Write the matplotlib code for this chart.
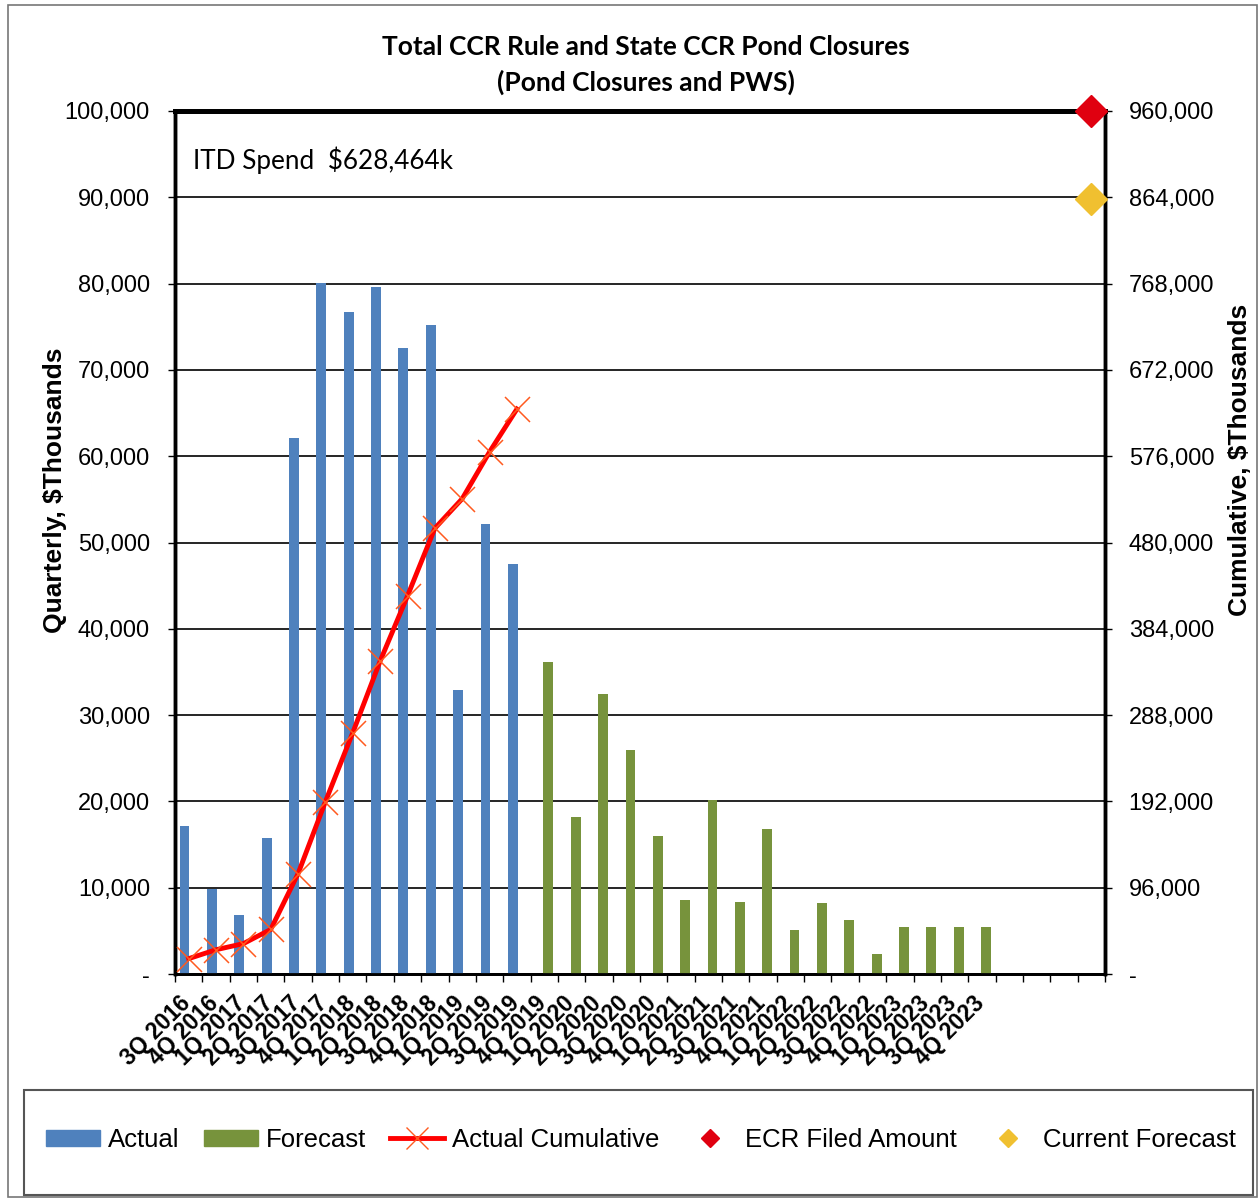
import numpy as np
import matplotlib.pyplot as plt
import matplotlib.patches as mpatches
import matplotlib.transforms as mtransforms
from matplotlib.lines import Line2D
from matplotlib.ticker import FuncFormatter

# quarter labels on the category axis
quarters = ['3Q 2016', '4Q 2016', '1Q 2017', '2Q 2017', '3Q 2017', '4Q 2017',
            '1Q 2018', '2Q 2018', '3Q 2018', '4Q 2018', '1Q 2019', '2Q 2019',
            '3Q 2019', '4Q 2019', '1Q 2020', '2Q 2020', '3Q 2020', '4Q 2020',
            '1Q 2021', '2Q 2021', '3Q 2021', '4Q 2021', '1Q 2022', '2Q 2022',
            '3Q 2022', '4Q 2022', '1Q 2023', '2Q 2023', '3Q 2023', '4Q 2023']

# quarterly spend, $ thousands (3Q 2016 - 3Q 2019)
actual = [17100, 9900, 6800, 15800, 62100, 80100, 76700, 79600, 72500,
          75200, 32900, 52100, 47500]
# quarterly forecast, $ thousands (4Q 2019 - 4Q 2023)
forecast = [36100, 18200, 32400, 26000, 16000, 8600, 20200, 8400, 16800,
            5100, 8200, 6300, 2300, 5400, 5400, 5400, 5400]
# cumulative actual spend, $ thousands
actual_cum = [17100, 27000, 33800, 49600, 111700, 191800, 268500, 348100,
              420600, 495800, 528700, 580800, 628464]
ecr_filed = 960000
current_fc = 862000

blue = '#4F81BD'
green = '#77933C'

fig = plt.figure(figsize=(12.59, 11.99), dpi=100)
ax = fig.add_axes([175 / 1259, 1 - 974 / 1199, 930 / 1259, 863 / 1199])
ax2 = ax.twinx()

n = len(quarters)
x_act = np.arange(len(actual))
x_fc = np.arange(len(actual), len(actual) + len(forecast))
bw = 0.36
ax.bar(x_act - 0.15, actual, width=bw, color=blue, zorder=3)
ax.bar(x_fc + 0.15, forecast, width=bw, color=green, zorder=3)

ax.set_xlim(-0.5, n + 3.5)
ax.set_ylim(0, 100000)
ax.set_yticks(np.arange(0, 100001, 10000))
fmt = FuncFormatter(lambda v, p: '-' if v == 0 else f'{int(v):,}')
ax.yaxis.set_major_formatter(fmt)
ax.yaxis.grid(True, color='black', lw=1.2, zorder=1)
ax.set_axisbelow(True)

ax.set_xticks(np.arange(n))
ax.set_xticklabels(quarters, rotation=45, ha='right', va='top',
                   fontsize=16.5, fontweight='bold', family='Liberation Sans')
ax.tick_params(axis='x', which='major', length=0, pad=13)
shift = mtransforms.ScaledTranslation(5 / 72, 0, fig.dpi_scale_trans)
for lab in ax.get_xticklabels():
    lab.set_transform(lab.get_transform() + shift)
ax.set_xticks(np.arange(-0.5, n + 3.6, 1), minor=True)
ax.tick_params(axis='x', which='minor', length=6, width=1, direction='out')
ax.tick_params(axis='y', length=5, width=1, pad=13, labelsize=17)
for lab in ax.get_yticklabels():
    lab.set_family('Liberation Sans')

ax2.set_ylim(0, 960000)
ax2.set_yticks(np.arange(0, 960001, 96000))
ax2.yaxis.set_major_formatter(fmt)
ax2.tick_params(axis='y', length=5, width=1, pad=12, labelsize=17)
for lab in ax2.get_yticklabels():
    lab.set_family('Liberation Sans')

ax2.plot(x_act, actual_cum, color='red', lw=3.5, zorder=4)
ax2.plot(x_act, actual_cum, ls='none', marker='x', ms=18, mew=1.1,
         color='#FF5A1F', zorder=5)
ax2.plot([n + 3], [ecr_filed], marker='D', ms=16, color='#E00010',
         ls='none', clip_on=False, zorder=6)
ax2.plot([n + 3], [current_fc], marker='D', ms=16, color='#F0C030',
         ls='none', clip_on=False, zorder=6)

for a in (ax, ax2):
    a.spines['top'].set_linewidth(3.5)
    a.spines['left'].set_linewidth(2.5)
    a.spines['right'].set_linewidth(2.5)
    a.spines['bottom'].set_linewidth(2)

fig.text(55 / 1259, 1 - 490 / 1199, 'Quarterly, $Thousands', rotation=90,
         fontsize=19, fontweight='bold', family='Liberation Sans',
         ha='center', va='center')
fig.text(1240 / 1259, 1 - 460 / 1199, 'Cumulative, $Thousands', rotation=90,
         fontsize=19, fontweight='bold', family='Liberation Sans',
         ha='center', va='center')

fig.text(193 / 1259, 1 - 160 / 1199, 'ITD Spend  $628,464k',
         fontsize=18.8, family='Lato', va='center', ha='left')

fig.text(646 / 1259, 1 - 47 / 1199, 'Total CCR Rule and State CCR Pond Closures',
         fontsize=19, fontweight='bold', family='Lato', ha='center', va='center')
fig.text(646 / 1259, 1 - 82 / 1199, '(Pond Closures and PWS)',
         fontsize=19, fontweight='bold', family='Lato', ha='center', va='center')

# outer frame and legend box
fig.patches.append(mpatches.Rectangle((8 / 1259, 2 / 1199), 1249 / 1259, 1192 / 1199,
                                      transform=fig.transFigure, fill=False,
                                      ec='#777777', lw=1.2))
fig.patches.append(mpatches.Rectangle((24 / 1259, 4 / 1199), 1229 / 1259, 105 / 1199,
                                      transform=fig.transFigure, fill=False,
                                      ec='#555555', lw=1.5))

handles = [mpatches.Patch(color=blue),
           mpatches.Patch(color=green),
           Line2D([], [], color='red', lw=3.5, marker='x', ms=16, mew=1,
                  mec='#FF5A1F'),
           Line2D([], [], color='#E00010', marker='D', ms=9, ls='none'),
           Line2D([], [], color='#F0C030', marker='D', ms=9, ls='none')]
labels = ['Actual', 'Forecast', 'Actual Cumulative', 'ECR Filed Amount',
          'Current Forecast']
fig.legend(handles, labels, loc='center', bbox_to_anchor=(641 / 1259, 1 - 1140 / 1199),
           ncol=5, frameon=False, handlelength=2.1, handleheight=0.6,
           handletextpad=0.3, columnspacing=0.95,
           prop={'family': 'Liberation Sans', 'size': 18.5})

fig.savefig('out.png', dpi=100)
